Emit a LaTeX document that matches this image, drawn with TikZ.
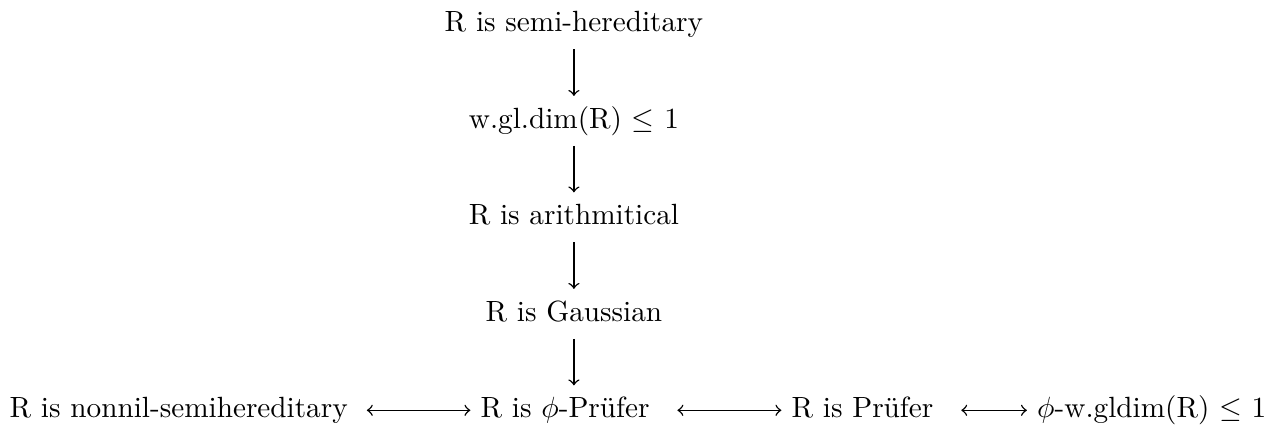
\documentclass[tikz,border=0pt]{standalone}
\usepackage{fontspec}
\usepackage{amsmath,amssymb}
\usepackage{tikz}
\usetikzlibrary{positioning}
\tikzset{
  prop/.style={text height=7.5pt,text depth=2.5pt,inner sep=3.33pt},
  impl/.style={->,line width=.5pt},
  equiv/.style={<->,line width=.5pt}
}
\begin{document}
\begin{tikzpicture}[node distance=5.6mm]
\node[prop] (semi) {R is semi-hereditary};
\node[prop,below=of semi] (wgl) {w.gl.dim(R) $\leq$ 1};
\node[prop,below=of wgl] (arith) {R is arithmitical};
\node[prop,below=of arith] (gauss) {R is Gaussian};
\node[prop,below=of gauss,xshift=-3pt] (phipru) {R is $\phi$-Prüfer};
\node[prop,left=13.5mm of phipru] (nonnil) {R is nonnil-semihereditary};
\node[prop,right=14.6mm of phipru] (pru) {R is Prüfer};
\node[prop,right=10mm of pru] (phiw) {$\phi$-w.gldim(R) $\leq$ 1};

\draw[impl] (semi) -- (wgl);
\draw[impl] (wgl) -- (arith);
\draw[impl] (arith) -- (gauss);
\draw[impl] (gauss.south) -- (gauss.south |- phipru.north);
\draw[equiv,shorten <=3pt] (nonnil) -- (phipru);
\draw[equiv,shorten <=6pt] (phipru) -- (pru);
\draw[equiv,shorten <=6pt] (pru) -- (phiw);
\end{tikzpicture}
\end{document}
